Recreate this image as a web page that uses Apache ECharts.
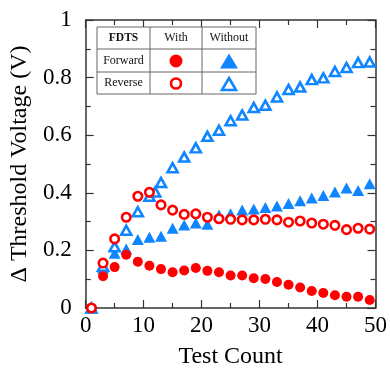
<!DOCTYPE html>
<html>
<head>
<meta charset="utf-8">
<script src="https://cdn.jsdelivr.net/npm/echarts@6/dist/echarts.min.js"></script>
<style>
  html, body { margin: 0; padding: 0; background: #fff; }
  #main { width: 390px; height: 374px; }
</style>
</head>
<body>
<div id="main"></div>
<script>
// test counts (odd cycles)
var testCount = [1, 3, 5, 7, 9, 11, 13, 15, 17, 19, 21, 23, 25, 27, 29, 31, 33, 35, 37, 39, 41, 43, 45, 47, 49]
// with FDTS, forward / reverse
var fwdWith = [0, 0.11, 0.142, 0.185, 0.161, 0.147, 0.135, 0.124, 0.13, 0.139, 0.129, 0.124, 0.113, 0.113, 0.103, 0.101, 0.09, 0.081, 0.071, 0.059, 0.052, 0.044, 0.039, 0.039, 0.028]
var revWith = [0, 0.156, 0.24, 0.315, 0.388, 0.402, 0.358, 0.34, 0.325, 0.327, 0.315, 0.31, 0.308, 0.306, 0.306, 0.308, 0.306, 0.298, 0.302, 0.295, 0.291, 0.287, 0.272, 0.277, 0.274]
// without FDTS, forward
var fwdWithout = [0, 0.138, 0.19, 0.205, 0.238, 0.246, 0.249, 0.277, 0.288, 0.295, 0.291, 0.323, 0.327, 0.34, 0.344, 0.349, 0.354, 0.363, 0.372, 0.382, 0.391, 0.403, 0.417, 0.408, 0.431]
// without FDTS, reverse (has an extra point at 12)
var revWithoutX = [1, 3, 5, 7, 9, 11, 12, 13, 15, 17, 19, 21, 23, 25, 27, 29, 31, 33, 35, 37, 39, 41, 43, 45, 47, 49]
var revWithout = [0, 0.145, 0.213, 0.27, 0.334, 0.388, 0.403, 0.436, 0.487, 0.524, 0.556, 0.596, 0.617, 0.65, 0.67, 0.696, 0.704, 0.733, 0.759, 0.767, 0.793, 0.799, 0.821, 0.835, 0.852, 0.854]

var xTicks = [0, 10, 20, 30, 40, 50]
var yTicks = [0, 0.2, 0.4, 0.6, 0.8, 1]

var red = '#ff0000'
var blue = '#0f86ff'
var serif = '"Liberation Serif", "Times New Roman", serif'
var axisColor = '#333'

function pairs (xs, ys) {
  var out = []
  for (var i = 0; i < ys.length; i++) {
    out.push([xs[i], ys[i]])
  }
  return out
}

function makeAxis (pos, min, max, interval, showLabel) {
  return {
    type: 'value',
    position: pos,
    min: min,
    max: max,
    interval: interval,
    axisLine: { show: true, onZero: false, lineStyle: { color: axisColor, width: 1.5 } },
    axisTick: { show: true, inside: true, length: 8, lineStyle: { color: axisColor, width: 1.2 } },
    minorTick: { show: true, splitNumber: 2, length: 5, lineStyle: { color: axisColor, width: 1.2 } },
    splitLine: { show: false },
    axisLabel: {
      show: showLabel,
      color: '#000',
      fontFamily: serif,
      fontSize: 23
    }
  }
}

var xBottom = makeAxis('bottom', xTicks[0], xTicks[xTicks.length - 1], 10, true)
xBottom.axisLabel.margin = 6
xBottom.name = 'Test Count'
xBottom.nameLocation = 'middle'
xBottom.nameGap = 37
xBottom.nameTextStyle = { color: '#000', fontFamily: serif, fontSize: 24 }
var xTop = makeAxis('top', xTicks[0], xTicks[xTicks.length - 1], 10, false)

var yLeft = makeAxis('left', yTicks[0], yTicks[yTicks.length - 1], 0.2, true)
yLeft.axisLabel.margin = 14
yLeft.name = 'Δ Threshold Voltage (V)'
yLeft.nameLocation = 'middle'
yLeft.nameGap = 52
yLeft.nameTextStyle = { color: '#000', fontFamily: serif, fontSize: 24 }
var yRight = makeAxis('right', yTicks[0], yTicks[yTicks.length - 1], 0.2, false)

// legend table (drawn as graphic)
var tx = [97, 150, 202, 256]
var ty = [27, 49, 72, 94]
var gridLine = { stroke: '#666', lineWidth: 1 }

function cellText (text, cx, cy, bold) {
  return {
    type: 'text',
    style: {
      text: text,
      x: cx,
      y: cy,
      textAlign: 'center',
      textVerticalAlign: 'middle',
      align: 'center',
      verticalAlign: 'middle',
      font: (bold ? 'bold 11.5px ' : '12px ') + serif,
      fill: '#111'
    },
    z: 101
  }
}

var c1 = (tx[0] + tx[1]) / 2
var c2 = (tx[1] + tx[2]) / 2
var c3 = (tx[2] + tx[3]) / 2
var r1 = (ty[0] + ty[1]) / 2
var r2 = (ty[1] + ty[2]) / 2
var r3 = (ty[2] + ty[3]) / 2

var tableGraphic = [
  { type: 'rect', shape: { x: tx[0], y: ty[0], width: tx[3] - tx[0], height: ty[3] - ty[0] }, style: { fill: '#fff', stroke: '#666', lineWidth: 1 }, z: 100 },
  { type: 'line', shape: { x1: tx[1], y1: ty[0], x2: tx[1], y2: ty[3] }, style: gridLine, z: 101 },
  { type: 'line', shape: { x1: tx[2], y1: ty[0], x2: tx[2], y2: ty[3] }, style: gridLine, z: 101 },
  { type: 'line', shape: { x1: tx[0], y1: ty[1], x2: tx[3], y2: ty[1] }, style: gridLine, z: 101 },
  { type: 'line', shape: { x1: tx[0], y1: ty[2], x2: tx[3], y2: ty[2] }, style: gridLine, z: 101 },
  cellText('FDTS', c1, r1, true),
  cellText('With', c2, r1),
  cellText('Without', c3, r1),
  cellText('Forward', c1, r2),
  cellText('Reverse', c1, r3),
  { type: 'circle', shape: { cx: c2, cy: r2 + 0.5, r: 6.5 }, style: { fill: red }, z: 101 },
  { type: 'circle', shape: { cx: c2, cy: r3 + 0.5, r: 5 }, style: { fill: '#fff', stroke: red, lineWidth: 2.6 }, z: 101 },
  { type: 'polygon', shape: { points: [[c3, r2 - 7], [c3 + 9, r2 + 8], [c3 - 9, r2 + 8]] }, style: { fill: blue }, z: 101 },
  { type: 'polygon', shape: { points: [[c3, r3 - 5], [c3 + 7, r3 + 7], [c3 - 7, r3 + 7]] }, style: { fill: '#fff', stroke: blue, lineWidth: 2.6 }, z: 101 }
]

var myChart = echarts.init(document.getElementById('main'))
var option = {
  animation: false,
  backgroundColor: '#fff',
  grid: { left: 85, right: 10, top: 20, bottom: 61 },
  xAxis: [xBottom, xTop],
  yAxis: [yLeft, yRight],
  series: [
    {
      name: 'Forward without',
      type: 'scatter',
      symbol: 'triangle',
      symbolSize: [12, 11],
      itemStyle: { color: blue, opacity: 1 },
      data: pairs(testCount, fwdWithout)
    },
    {
      name: 'Reverse without',
      type: 'scatter',
      symbol: 'triangle',
      symbolSize: [10, 9],
      itemStyle: { color: '#fff', borderColor: blue, borderWidth: 2.6, opacity: 1 },
      data: pairs(revWithoutX, revWithout)
    },
    {
      name: 'Forward with',
      type: 'scatter',
      symbol: 'circle',
      symbolSize: 10,
      itemStyle: { color: red, opacity: 1 },
      data: pairs(testCount, fwdWith)
    },
    {
      name: 'Reverse with',
      type: 'scatter',
      symbol: 'circle',
      symbolSize: 8.5,
      itemStyle: { color: '#fff', borderColor: red, borderWidth: 2.6, opacity: 1 },
      data: pairs(testCount, revWith)
    }
  ],
  graphic: tableGraphic
}
myChart.setOption(option)
</script>
</body>
</html>
